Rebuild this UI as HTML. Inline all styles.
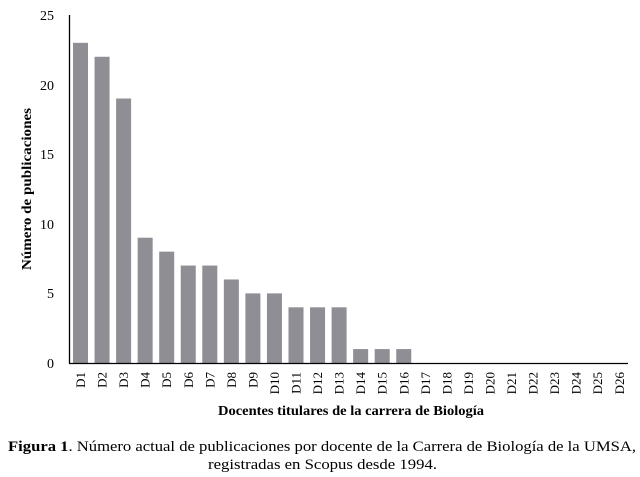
<!DOCTYPE html>
<html><head><meta charset="utf-8"><style>
body{margin:0;background:#fff;}
svg{display:block;font-family:"Liberation Serif",serif;}
</style></head><body>
<svg width="640" height="477" viewBox="0 0 640 477">
<g id="bars" fill="#8e8e94"></g>
<line x1="69.5" y1="15" x2="69.5" y2="363.5" stroke="#000" stroke-width="1.3"/>
<line x1="69" y1="363.5" x2="628" y2="363.5" stroke="#000" stroke-width="1.3"/>
<g font-size="14" text-anchor="end" fill="#000">
<text x="54" y="20">25</text><text x="54" y="90">20</text><text x="54" y="159">15</text>
<text x="54" y="229">10</text><text x="54" y="298">5</text><text x="54" y="368">0</text>
</g>
<g id="labels" font-size="13" fill="#000"></g>
<text x="31" y="189" font-size="14" font-weight="bold" text-anchor="middle" transform="rotate(-90 31 189)" textLength="162" lengthAdjust="spacingAndGlyphs">Número de publicaciones</text>
<text x="218" y="415" font-size="14" font-weight="bold" textLength="266" lengthAdjust="spacingAndGlyphs">Docentes titulares de la carrera de Biología</text>
<text x="8" y="451" font-size="15" textLength="628" lengthAdjust="spacingAndGlyphs"><tspan font-weight="bold">Figura 1</tspan>. Número actual de publicaciones por docente de la Carrera de Biología de la UMSA,</text>
<text x="208" y="469" font-size="15" textLength="229" lengthAdjust="spacingAndGlyphs">registradas en Scopus desde 1994.</text>
<script>
var v=[23,22,19,9,8,7,7,6,5,5,4,4,4,1,1,1,0,0,0,0,0,0,0,0,0,0];
var b=document.getElementById('bars'),l=document.getElementById('labels'),ns='http://www.w3.org/2000/svg';
for(var i=0;i<26;i++){var x=73+21.55*i;
if(v[i]>0){var r=document.createElementNS(ns,'rect');var h=v[i]*13.92;r.setAttribute('x',x);r.setAttribute('y',363-h);r.setAttribute('width',15);r.setAttribute('height',h);b.appendChild(r);}
var t=document.createElementNS(ns,'text');var cx=x+7.5+4.5,cy=372;t.setAttribute('x',cx);t.setAttribute('y',cy);t.setAttribute('text-anchor','end');t.setAttribute('transform','rotate(-90 '+cx+' '+cy+')');t.textContent='D'+(i+1);l.appendChild(t);}
</script>
</svg>
</body></html>
